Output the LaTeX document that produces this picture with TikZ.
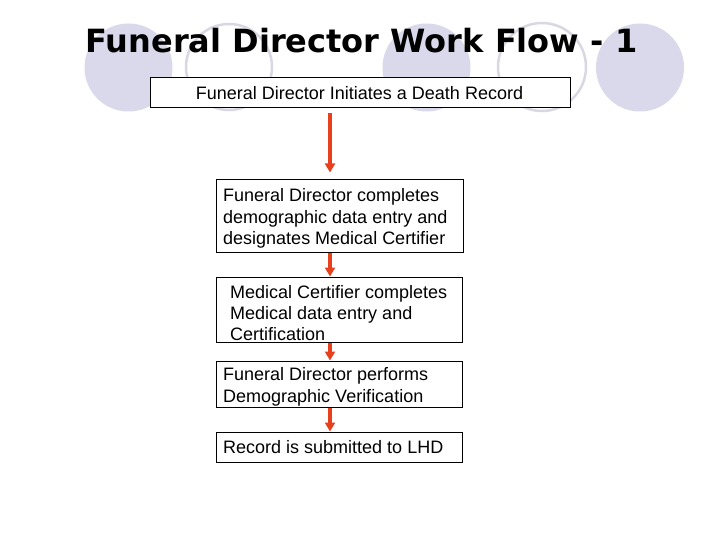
\documentclass[tikz,border=0pt]{standalone}
\usepackage{fontspec}
\setmainfont{Liberation Sans}
\newfontfamily\titlefont{DejaVu Sans}
\usetikzlibrary{arrows.meta}
\definecolor{lav}{RGB}{217,217,235}
\definecolor{lavline}{RGB}{216,216,228}
\definecolor{arrowred}{RGB}{232,64,28}
\tikzset{
  deco/.style={fill=lav, draw=none},
  decoring/.style={draw=lavline, line width=2.5pt},
  stepbox/.style={draw=black, line width=1pt, fill=white, inner sep=0pt, rectangle},
  txt/.style={inner sep=0pt, align=left, font=\fontsize{18}{21.3}\selectfont},
  arr/.style={draw=arrowred, line width=3.5pt, -{Triangle[width=10pt,length=9pt]}}
}
\begin{document}
\begin{tikzpicture}[x=1pt,y=-1pt]
\useasboundingbox[fill=white] (0,0) rectangle (720,540);
% background circles
\fill[deco] (128.5,67.5) circle (44);
\draw[decoring] (229,67) circle (43);
\fill[deco] (426.5,67.5) circle (44);
\draw[decoring] (542,67) circle (44);
\fill[deco] (640,67.5) circle (44);
% title
\node[inner sep=0pt, anchor=base, font=\titlefont\bfseries\fontsize{32}{36}\selectfont] (title) at (361.5,53) {Funeral Director Work Flow - 1};
% boxes
\node[stepbox, minimum width=420pt, minimum height=30pt] (b1) at (360,93) {};
\node[stepbox, minimum width=247pt, minimum height=72pt] (b2) at (339.5,216) {};
\node[stepbox, minimum width=246pt, minimum height=65pt] (b3) at (339,309.5) {};
\node[stepbox, minimum width=246pt, minimum height=46pt] (b4) at (339,384) {};
\node[stepbox, minimum width=246pt, minimum height=30pt] (b5) at (339,447) {};
% texts
\node[txt, anchor=north] (t1) at (359.5,86.5) {Funeral Director Initiates a Death Record};
\node[txt, anchor=north west] (t2) at (223,188.5) {Funeral Director completes\\demographic data entry and\\designates Medical Certifier};
\node[txt, anchor=north west] (t3) at (230,285) {Medical Certifier completes\\Medical data entry and\\Certification};
\node[txt, anchor=north west] (t4) at (223,367.5) {Funeral Director performs\\Demographic Verification};
\node[txt, anchor=north west] (t5) at (223,440) {Record is submitted to LHD};
% arrows
\coordinate (ax) at (330,0);
\draw[arr, shorten <=5pt, shorten >=7pt] (b1.south -| ax) -- (b2.north -| ax);
\draw[arr] (b2.south -| ax) -- (b3.north -| ax);
\draw[arr] (b3.south -| ax) -- (b4.north -| ax);
\draw[arr] (b4.south -| ax) -- (b5.north -| ax);
\end{tikzpicture}
\end{document}
